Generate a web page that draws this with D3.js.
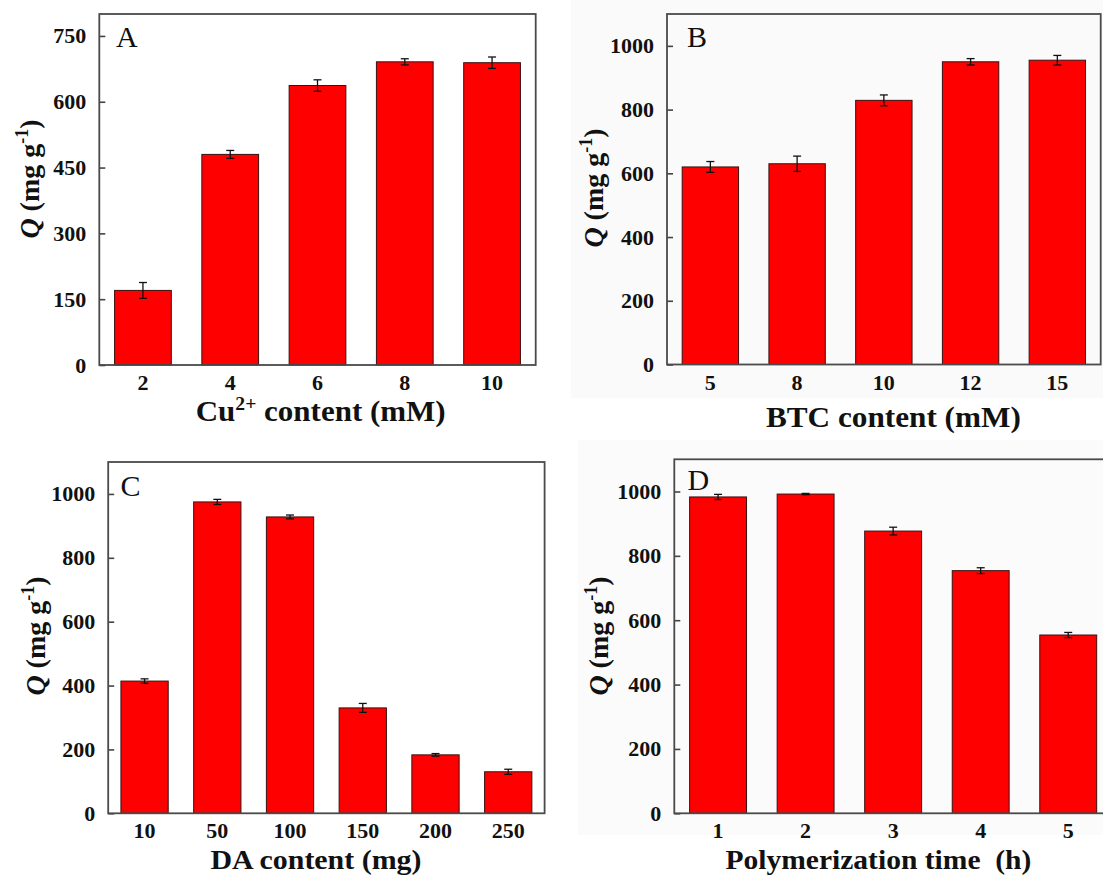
<!DOCTYPE html>
<html>
<head>
<meta charset="utf-8">
<script src="https://cdn.jsdelivr.net/npm/d3@7/dist/d3.min.js"></script>
<style>
  html, body { margin: 0; padding: 0; background: #ffffff; }
  svg { display: block; }
  text { font-family: "Liberation Serif", "Times New Roman", serif; fill: #111; }
</style>
</head>
<body>
<svg id="fig" width="1103" height="879"></svg>
<script>
// Adsorption capacity Q (mg g-1) under four synthesis variables
const cuCategories = ["2", "4", "6", "8", "10"];
const cuValues = [170, 480, 637, 691, 689];
const cuErrors = [18, 9, 13, 7, 13];

const btcCategories = ["5", "8", "10", "12", "15"];
const btcValues = [620, 630, 829, 950, 955];
const btcErrors = [17, 24, 17, 10, 15];

const daCategories = ["10", "50", "100", "150", "200", "250"];
const daValues = [414, 975, 928, 330, 183, 130];
const daErrors = [7, 8, 6, 14, 4, 8];

const timeCategories = ["1", "2", "3", "4", "5"];
const timeValues = [983, 992, 877, 754, 554];
const timeErrors = [8, 2, 12, 9, 8];

const cuTicks = [0, 150, 300, 450, 600, 750];
const qTicks = [0, 200, 400, 600, 800, 1000];

const svg = d3.select("#fig");

// faint scan backgrounds behind the right-hand panels
svg.append("rect").attr("x", 571).attr("y", 0).attr("width", 532).attr("height", 398).attr("fill", "#fafafa");
svg.append("rect").attr("x", 578).attr("y", 440).attr("width", 525).attr("height", 395).attr("fill", "#fbfbfb");

const panels = [
  { letter: "A", cats: cuCategories, vals: cuValues, errs: cuErrors, ticks: cuTicks, yMax: 800,
    x0: 99.3, x1: 535.7, y0: 14, y1: 365,
    letterPos: [116, 46.5], tickLabelY: 390,
    xTitle: [["Cu", 0], ["2+", 1], [" content (mM)", 0]], xTitleX: 320.7, xTitleY: 421, xTitleLen: 250, xTitleSize: 30,
    yTitleX: 39, yTitleY: 179 },
  { letter: "B", cats: btcCategories, vals: btcValues, errs: btcErrors, ticks: qTicks, yMax: 1100,
    x0: 667, x1: 1100.7, y0: 14, y1: 364.5,
    letterPos: [687, 46.5], tickLabelY: 390,
    xTitle: [["BTC content (mM)", 0]], xTitleX: 893.4, xTitleY: 427, xTitleLen: 255, xTitleSize: 30,
    yTitleX: 602.5, yTitleY: 188 },
  { letter: "C", cats: daCategories, vals: daValues, errs: daErrors, ticks: qTicks, yMax: 1100,
    x0: 108.2, x1: 544.6, y0: 462, y1: 813.3,
    letterPos: [120.5, 496], tickLabelY: 838,
    xTitle: [["DA content (mg)", 0]], xTitleX: 316, xTitleY: 869, xTitleLen: 211, xTitleSize: 28,
    yTitleX: 44.5, yTitleY: 636 },
  { letter: "D", cats: timeCategories, vals: timeValues, errs: timeErrors, ticks: qTicks, yMax: 1100,
    x0: 674.3, x1: 1112, y0: 459.3, y1: 813.3,
    letterPos: [687.5, 490], tickLabelY: 838,
    xTitle: [["Polymerization time\u00a0 (h)", 0]], xTitleX: 878.4, xTitleY: 869, xTitleLen: 306, xTitleSize: 28,
    yTitleX: 608, yTitleY: 636 }
];

panels.forEach(p => {
  const g = svg.append("g");

  const x = d3.scaleBand()
    .domain(p.cats)
    .range([p.x0, p.x1])
    .paddingInner(0.35)
    .paddingOuter(0.175);

  const y = d3.scaleLinear()
    .domain([0, p.yMax])
    .range([p.y1, p.y0]);

  const rows = p.cats.map((c, i) => ({ cat: c, val: p.vals[i], err: p.errs[i] }));

  // bars
  g.selectAll("rect.bar").data(rows).join("rect")
    .attr("class", "bar")
    .attr("x", d => x(d.cat))
    .attr("y", d => y(d.val))
    .attr("width", x.bandwidth())
    .attr("height", d => y(0) - y(d.val))
    .attr("fill", "#ff0000")
    .attr("stroke", "#3a1010")
    .attr("stroke-width", 1);

  // error bars
  const eb = g.selectAll("g.err").data(rows).join("g").attr("class", "err")
    .attr("stroke", "#111").attr("stroke-width", 1.3);
  eb.append("line")
    .attr("x1", d => x(d.cat) + x.bandwidth() / 2)
    .attr("x2", d => x(d.cat) + x.bandwidth() / 2)
    .attr("y1", d => y(d.val + d.err))
    .attr("y2", d => y(d.val - d.err));
  [1, -1].forEach(s => {
    eb.append("line")
      .attr("x1", d => x(d.cat) + x.bandwidth() / 2 - 4)
      .attr("x2", d => x(d.cat) + x.bandwidth() / 2 + 4)
      .attr("y1", d => y(d.val + s * d.err))
      .attr("y2", d => y(d.val + s * d.err));
  });

  // left axis with inward ticks
  const yAxis = d3.axisLeft(y).tickValues(p.ticks).tickSize(-6).tickPadding(13).tickFormat(d3.format("d"));
  const ya = g.append("g").attr("transform", `translate(${p.x0},0)`).call(yAxis);
  ya.select(".domain").remove();
  ya.selectAll(".tick line").attr("stroke", "#444").attr("stroke-width", 1.6);
  ya.selectAll(".tick text")
    .attr("fill", "#111")
    .style("font-family", '"Liberation Serif", "Times New Roman", serif')
    .style("font-weight", "bold")
    .style("font-size", "22px");

  // bottom axis labels (no visible tick marks)
  const xAxis = d3.axisBottom(x).tickSize(0).tickPadding(0);
  const xa = g.append("g").attr("transform", `translate(0,${p.y1})`).call(xAxis);
  xa.select(".domain").remove();
  xa.selectAll(".tick text")
    .attr("y", p.tickLabelY - p.y1)
    .attr("dy", null)
    .attr("fill", "#111")
    .style("font-family", '"Liberation Serif", "Times New Roman", serif')
    .style("font-weight", "bold")
    .style("font-size", "22px");

  // frame
  g.append("rect")
    .attr("x", p.x0).attr("y", p.y0)
    .attr("width", p.x1 - p.x0).attr("height", p.y1 - p.y0)
    .attr("fill", "none")
    .attr("stroke", "#4a4a4a")
    .attr("stroke-width", 1.8);

  // panel letter
  g.append("text")
    .attr("x", p.letterPos[0]).attr("y", p.letterPos[1])
    .style("font-size", "30px")
    .text(p.letter);

  // x title
  const xt = g.append("text")
    .attr("x", p.xTitleX).attr("y", p.xTitleY)
    .attr("text-anchor", "middle")
    .attr("textLength", p.xTitleLen)
    .attr("lengthAdjust", "spacingAndGlyphs")
    .style("font-weight", "bold")
    .style("font-size", p.xTitleSize + "px");
  p.xTitle.forEach(([t, sup], i) => {
    const ts = xt.append("tspan").text(t);
    if (sup) ts.style("font-size", "19px").attr("dy", -11);
    else if (i > 0 && p.xTitle[i - 1][1]) ts.attr("dy", 11);
  });

  // y title: Q (mg g-1)
  const yt = g.append("text")
    .attr("transform", `translate(${p.yTitleX},${p.yTitleY}) rotate(-90)`)
    .attr("text-anchor", "middle")
    .style("font-weight", "bold")
    .style("font-size", "28px");
  yt.append("tspan").style("font-style", "italic").text("Q");
  yt.append("tspan").text(" (mg g");
  yt.append("tspan").style("font-size", "18px").attr("dy", -11).text("-1");
  yt.append("tspan").attr("dy", 11).text(")");
});
</script>
</body>
</html>
